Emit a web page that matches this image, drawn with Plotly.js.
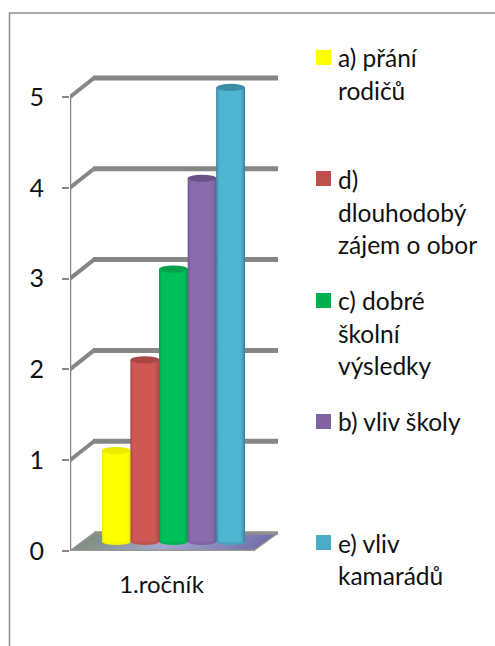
<!DOCTYPE html>
<html><head><meta charset="utf-8">
<script src="https://cdn.plot.ly/plotly-3.0.1.min.js"></script>
<style>html,body{margin:0;padding:0;background:#fff}</style>
</head><body><div id="chart" style="width:495px;height:646px"></div>
<script>
const categories = ['1.ročník'];
const seriesNames = ['a) přání rodičů','d) dlouhodobý zájem o obor','c) dobré školní výsledky','b) vliv školy','e) vliv kamarádů'];
const seriesValues = [1,2,3,4,5];
const yTicks = [0,1,2,3,4,5];
const legendLines = [['a) přání','rodičů'],['d)','dlouhodobý','zájem o obor'],['c) dobré','školní','výsledky'],['b) vliv školy'],['e) vliv','kamarádů']];
const swatchColors = ['#ffff00','#c0504d','#00b050','#8064a2','#4bacc6'];
const centerColors = ['#ffff00','#cf5755','#00c05c','#8a6bad','#50b5d0'];
const edgeColors = ['#e8e800','#a04442','#009a4a','#6c5590','#2f7f96'];
const capColors = ['#ecec00','#a84846','#00a04c','#6a5288','#3b8ea6'];

// chart geometry in screen pixels
const L=70,R=290,T=60,B=551,UNIT=90.8,CATW=183,BARCX=173.5;
const BARGAP=0.2186, BASE=0.105, CAP=0.04;
const GRID='#868686';
const FONT='Lato, sans-serif';
const cx=x=>(x-BARCX)/CATW, cy=y=>(B-y)/UNIT;
const qx=x=>(x-L)/(R-L), qy=y=>(B-y)/(B-T);
const hex=c=>[1,3,5].map(i=>parseInt(c.substr(i,2),16));
const mix=(a,b,t)=>{const A=hex(a),B2=hex(b);return 'rgb('+A.map((v,i)=>Math.round(v+(B2[i]-v)*t)).join(',')+')';};

const line=(x0,y0,x1,y1,w,c,layer)=>({type:'line',xref:'x',yref:'y',x0:cx(x0),y0:cy(y0),x1:cx(x1),y1:cy(y1),line:{color:c||GRID,width:w},layer:layer||'below'});
const shapes=[];
// floor
const FS=24;
const fc=t=>t<0.45?mix('#7f9080','#a3a7cc',t/0.45):mix('#a3a7cc','#6f6eaa',(t-0.45)/0.55);
for(let i=0;i<FS;i++){
  const a=i/FS,b=(i+1.3)/FS;
  const x0=70+183*a,x1=70+183*Math.min(b,1);
  shapes.push({type:'path',xref:'x',yref:'y',layer:'below',line:{width:0},fillcolor:fc(a),
    path:`M${cx(x0)},${cy(551)}L${cx(x1)},${cy(551)}L${cx(x1+25)},${cy(533)}L${cx(x0+25)},${cy(533)}Z`});
}
// walls
yTicks.forEach(v=>{
  const y=B-v*UNIT;
  if(v>0){
    shapes.push(line(70,y,94,y-19,4));
    shapes.push(line(93,y-19,278,y-19,5));
  }
});
shapes.push(line(94,533,278,533,3.5,'#8f8f8f'));
shapes.push(line(70,551,94,533,1.5,'#8f8f8f'));
shapes.push(line(253,551,278,533,1.5,'#8f8f8f'));
shapes.push(line(70,B,70,B-5*UNIT,2.5));
shapes.push(line(70,B,253,B,3,'#969696'));
shapes.push(line(70,B,70,B+6,1.5));
shapes.push(line(253,B,253,B+6,1.5));
// cylinders
const w=(1-BARGAP)/seriesValues.length;
seriesValues.forEach((v,i)=>{
  const x0=(i-seriesValues.length/2)*w, x1=x0+w;
  const top=BASE+v;
  shapes.push({type:'circle',xref:'x',yref:'y',x0,x1,y0:BASE-CAP,y1:BASE+CAP,fillcolor:mix(edgeColors[i],centerColors[i],0.7),line:{width:0},layer:'above'});
  const N=8;
  for(let k=0;k<N;k++){
    const t=k/(N-1);
    const il=k*0.014*w, ir=k*0.022*w;
    shapes.push({type:'rect',xref:'x',yref:'y',x0:x0+il,x1:x1-ir,y0:BASE,y1:top,
      fillcolor:mix(edgeColors[i],centerColors[i],Math.sqrt(t)),line:{width:0},layer:'above'});
  }
  shapes.push({type:'circle',xref:'x',yref:'y',x0,x1,y0:top-CAP,y1:top+CAP,fillcolor:capColors[i],line:{width:0},layer:'above'});
});
// chart frame
shapes.push({type:'path',xref:'paper',yref:'paper',layer:'below',line:{color:'#8e8e8e',width:1.5},
  path:`M${qx(9.5)},${qy(646)}L${qx(9.5)},${qy(13)}L${qx(495)},${qy(13)}`});

// legend
const swatchY=[57.5,178.5,300.5,421.5,542.5];
const lineY=[[58,90.5],[179,212,244.5],[300,333,365.5],[422],[543,575]];
const annotations=[];
legendLines.forEach((ls,i)=>{
  shapes.push({type:'rect',xref:'paper',yref:'paper',x0:qx(316),x1:qx(331),y0:qy(swatchY[i]-7.5),y1:qy(swatchY[i]+7.5),fillcolor:swatchColors[i],line:{width:0}});
  ls.forEach((t,j)=>annotations.push({xref:'paper',yref:'paper',x:qx(337),y:qy(lineY[i][j]),xanchor:'left',yanchor:'middle',xshift:-1,showarrow:false,align:'left',text:t,font:{family:FONT,size:24.5,color:'#111'}}));
});

const data=seriesNames.map((n,i)=>({type:'bar',name:n,x:categories,y:[seriesValues[i]],base:BASE,marker:{color:swatchColors[i],line:{width:0}},cliponaxis:false}));
const layout={
  width:495,height:646,paper_bgcolor:'#fff',plot_bgcolor:'rgba(0,0,0,0)',showlegend:false,
  margin:{l:L,r:495-R,t:T,b:646-B,pad:0},
  barmode:'group',bargap:BARGAP,bargroupgap:0,
  font:{family:FONT,color:'#111'},
  xaxis:{type:'category',range:[cx(L),cx(R)],autorange:false,showgrid:false,zeroline:false,showline:false,ticks:'',
    tickmode:'array',tickvals:[cx(161.5)],ticktext:categories,tickfont:{size:24,family:FONT,color:'#111'},ticklabelstandoff:17},
  yaxis:{range:[0,(B-T)/UNIT],autorange:false,showgrid:false,zeroline:false,showline:false,tickmode:'array',tickvals:yTicks,
    ticks:'outside',ticklen:7,tickwidth:2,tickcolor:GRID,tickfont:{size:25,family:FONT,color:'#111'},ticklabelstandoff:13},
  shapes,annotations
};
Plotly.newPlot('chart',data,layout,{displayModeBar:false,staticPlot:true});
</script></body></html>
